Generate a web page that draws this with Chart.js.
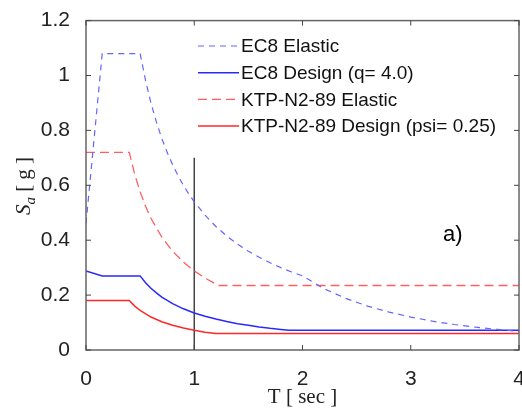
<!DOCTYPE html>
<html>
<head>
<meta charset="utf-8">
<script src="https://cdn.jsdelivr.net/npm/chart.js@4/dist/chart.umd.min.js"></script>
<style>
  html, body { margin: 0; padding: 0; background: #fff; }
  canvas { display: block; }
</style>
</head>
<body>
<canvas id="spectrumChart" width="522" height="410"></canvas>
<script>
// Periods (sec) and spectral accelerations (g)
const ec8ElasticT = [0, 0.15, 0.5, 0.55, 0.6, 0.65, 0.7, 0.75, 0.8, 0.85, 0.9, 0.95, 1.0, 1.1, 1.2, 1.3, 1.4, 1.5, 1.6, 1.7, 1.8, 1.9, 2.0, 2.2, 2.4, 2.6, 2.8, 3.0, 3.2, 3.4, 3.6, 3.8, 4.0];
const ec8ElasticSa = [0.46, 1.08, 1.08, 0.982, 0.90, 0.831, 0.771, 0.72, 0.675, 0.635, 0.60, 0.568, 0.54, 0.491, 0.45, 0.415, 0.386, 0.36, 0.338, 0.318, 0.30, 0.284, 0.27, 0.223, 0.188, 0.16, 0.138, 0.12, 0.105, 0.093, 0.083, 0.075, 0.068];

const ec8DesignT = [0, 0.15, 0.5, 0.55, 0.6, 0.65, 0.7, 0.8, 0.9, 1.0, 1.1, 1.2, 1.3, 1.4, 1.5, 1.6, 1.7, 1.8, 1.875, 4.0];
const ec8DesignSa = [0.288, 0.27, 0.27, 0.245, 0.225, 0.208, 0.193, 0.169, 0.15, 0.135, 0.123, 0.113, 0.104, 0.096, 0.09, 0.084, 0.079, 0.075, 0.072, 0.072];

const ktpElasticT = [0, 0.4, 0.45, 0.5, 0.55, 0.6, 0.7, 0.8, 0.9, 1.0, 1.1, 1.225, 4.0];
const ktpElasticSa = [0.72, 0.72, 0.64, 0.576, 0.524, 0.48, 0.411, 0.36, 0.32, 0.288, 0.262, 0.235, 0.235];

const ktpDesignT = [0, 0.4, 0.45, 0.5, 0.6, 0.7, 0.8, 0.9, 1.0, 1.1, 1.2, 4.0];
const ktpDesignSa = [0.18, 0.18, 0.16, 0.144, 0.12, 0.103, 0.09, 0.08, 0.072, 0.065, 0.06, 0.06];

// vertical marker at T = 1 sec
const markerT = [1, 1];
const markerSa = [0, 0.7];

const seriesNames = ["EC8 Elastic", "EC8 Design (q= 4.0)", "KTP-N2-89 Elastic", "KTP-N2-89 Design (psi= 0.25)"];
const xTickLabels = ["0", "1", "2", "3", "4"];
const yTickLabels = ["0", "0.2", "0.4", "0.6", "0.8", "1", "1.2"];

const toPoints = (xs, ys) => xs.map((x, i) => ({ x: x, y: ys[i] }));

const sansFont = "'Liberation Sans', Arial, sans-serif";
const serifFont = "'Liberation Serif', 'Times New Roman', serif";

// box, inward ticks, legend, y title and panel tag
const decorations = {
    id: "decorations",
    afterDatasetsDraw(chart) {
        const ctx = chart.ctx;
        const a = chart.chartArea;
        const xs = chart.scales.x;
        const ys = chart.scales.y;
        ctx.save();

        // axes box
        ctx.strokeStyle = "#666";
        ctx.lineWidth = 1.5;
        ctx.setLineDash([]);
        ctx.strokeRect(a.left, a.top, a.right - a.left, a.bottom - a.top);

        // inward tick marks
        ctx.lineWidth = 1;
        ctx.strokeStyle = "#444";
        ctx.beginPath();
        xs.ticks.forEach(t => {
            const px = xs.getPixelForValue(t.value);
            ctx.moveTo(px, a.bottom); ctx.lineTo(px, a.bottom - 5);
            ctx.moveTo(px, a.top); ctx.lineTo(px, a.top + 5);
        });
        ys.ticks.forEach(t => {
            const py = ys.getPixelForValue(t.value);
            ctx.moveTo(a.left, py); ctx.lineTo(a.left + 5, py);
            ctx.moveTo(a.right, py); ctx.lineTo(a.right - 5, py);
        });
        ctx.stroke();

        // legend
        const legendX = 198, lineLen = 41, rowY = 46, rowGap = 26.7;
        ctx.font = "19px " + sansFont;
        ctx.textBaseline = "middle";
        ctx.textAlign = "left";
        chart.data.datasets.slice(0, 4).forEach((ds, i) => {
            const y = rowY + i * rowGap;
            ctx.strokeStyle = ds.borderColor;
            ctx.lineWidth = ds.borderWidth;
            ctx.setLineDash(ds.borderDash || []);
            ctx.beginPath();
            ctx.moveTo(legendX, y);
            ctx.lineTo(legendX + lineLen, y);
            ctx.stroke();
            ctx.fillStyle = "#111";
            ctx.fillText(ds.label, legendX + lineLen + 2, y + 1);
        });
        ctx.setLineDash([]);

        // panel tag
        ctx.font = "22px " + sansFont;
        ctx.fillStyle = "#000";
        ctx.fillText("a)", 443, 235);

        // y axis title: S_a [ g ]
        ctx.translate(23, 186);
        ctx.rotate(-Math.PI / 2);
        ctx.fillStyle = "#222";
        ctx.textBaseline = "alphabetic";
        const parts = [
            { text: "S", font: "italic 21px " + serifFont, dy: 0 },
            { text: "a", font: "italic 15px " + serifFont, dy: 5 },
            { text: " [ g ]", font: "21px " + serifFont, dy: 0 }
        ];
        let total = 0;
        parts.forEach(p => { ctx.font = p.font; total += ctx.measureText(p.text).width; });
        let cx = -total / 2;
        parts.forEach(p => {
            ctx.font = p.font;
            ctx.fillText(p.text, cx, 7 + p.dy);
            cx += ctx.measureText(p.text).width;
        });
        ctx.restore();
    }
};

const ctx = document.getElementById("spectrumChart").getContext("2d");
new Chart(ctx, {
    type: "line",
    data: {
        datasets: [
            {
                label: seriesNames[0],
                data: toPoints(ec8ElasticT, ec8ElasticSa),
                borderColor: "rgb(100,100,255)",
                borderWidth: 1.2,
                borderDash: [6, 5]
            },
            {
                label: seriesNames[1],
                data: toPoints(ec8DesignT, ec8DesignSa),
                borderColor: "rgb(40,40,255)",
                borderWidth: 1.5
            },
            {
                label: seriesNames[2],
                data: toPoints(ktpElasticT, ktpElasticSa),
                borderColor: "rgb(255,95,95)",
                borderWidth: 1.3,
                borderDash: [9, 5]
            },
            {
                label: seriesNames[3],
                data: toPoints(ktpDesignT, ktpDesignSa),
                borderColor: "rgb(255,40,40)",
                borderWidth: 1.5
            },
            {
                label: "marker",
                data: toPoints(markerT, markerSa),
                borderColor: "#444",
                borderWidth: 1.5
            }
        ]
    },
    options: {
        responsive: false,
        animation: false,
        events: [],
        elements: { point: { radius: 0 }, line: { tension: 0 } },
        layout: { padding: { top: 19, right: 3, left: 0, bottom: 0 } },
        plugins: { legend: { display: false }, tooltip: { enabled: false } },
        scales: {
            x: {
                type: "linear",
                min: 0,
                max: 4,
                grid: { display: false },
                border: { display: false },
                ticks: {
                    stepSize: 1,
                    padding: 9,
                    color: "#222",
                    font: { family: sansFont, size: 21 },
                    maxRotation: 0,
                    callback: (v, i) => xTickLabels[i]
                },
                title: {
                    display: true,
                    text: "T [ sec ]",
                    color: "#222",
                    font: { family: serifFont, size: 21 },
                    padding: { top: 0, bottom: 0 }
                },
                afterFit: s => { s.height = 60; s.paddingLeft = 0; s.paddingRight = 0; }
            },
            y: {
                min: 0,
                max: 1.2,
                grid: { display: false },
                border: { display: false },
                ticks: {
                    stepSize: 0.2,
                    padding: 8,
                    color: "#222",
                    font: { family: sansFont, size: 21 },
                    callback: (v, i) => yTickLabels[i]
                },
                afterFit: s => { s.width = 86; }
            }
        }
    },
    plugins: [decorations]
});
</script>
</body>
</html>
